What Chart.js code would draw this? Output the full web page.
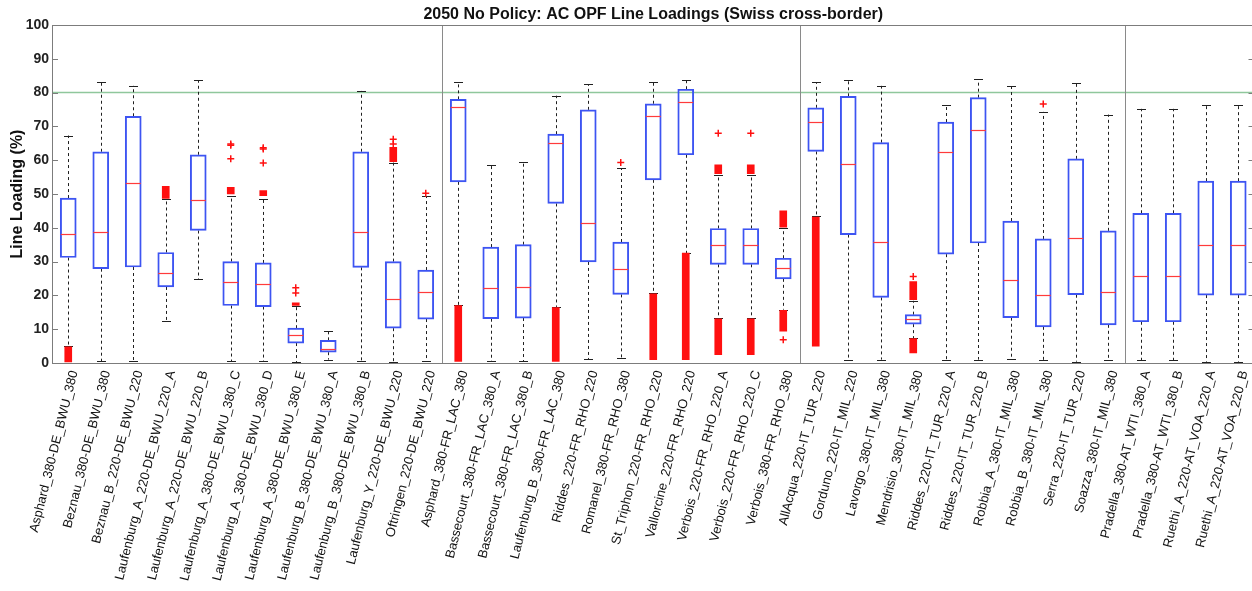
<!DOCTYPE html>
<html>
<head>
<meta charset="utf-8">
<title>Line loadings</title>
<script src="https://cdn.jsdelivr.net/npm/chart.js@4.4.1/dist/chart.umd.min.js"></script>
<style>
  html, body { margin: 0; padding: 0; background: #fff; overflow: hidden; }
  canvas { display: block; }
</style>
</head>
<body>
<canvas id="chart" width="1260" height="591"></canvas>
<script>
const chartTitle = '2050 No Policy: AC OPF Line Loadings (Swiss cross-border)';

const lines = [
  'Asphard_380-DE_BWU_380', 'Beznau_380-DE_BWU_380', 'Beznau_B_220-DE_BWU_220',
  'Laufenburg_A_220-DE_BWU_220_A', 'Laufenburg_A_220-DE_BWU_220_B', 'Laufenburg_A_380-DE_BWU_380_C',
  'Laufenburg_A_380-DE_BWU_380_D', 'Laufenburg_A_380-DE_BWU_380_E', 'Laufenburg_B_380-DE_BWU_380_A',
  'Laufenburg_B_380-DE_BWU_380_B', 'Laufenburg_Y_220-DE_BWU_220', 'Oftringen_220-DE_BWU_220',
  'Asphard_380-FR_LAC_380', 'Bassecourt_380-FR_LAC_380_A', 'Bassecourt_380-FR_LAC_380_B',
  'Laufenburg_B_380-FR_LAC_380', 'Riddes_220-FR_RHO_220', 'Romanel_380-FR_RHO_380',
  'St_Triphon_220-FR_RHO_220', 'Vallorcine_220-FR_RHO_220', 'Verbois_220-FR_RHO_220_A',
  'Verbois_220-FR_RHO_220_C', 'Verbois_380-FR_RHO_380',
  'AllAcqua_220-IT_TUR_220', 'Gorduno_220-IT_MIL_220', 'Lavorgo_380-IT_MIL_380',
  'Mendrisio_380-IT_MIL_380', 'Riddes_220-IT_TUR_220_A', 'Riddes_220-IT_TUR_220_B',
  'Robbia_A_380-IT_MIL_380', 'Robbia_B_380-IT_MIL_380', 'Serra_220-IT_TUR_220',
  'Soazza_380-IT_MIL_380',
  'Pradella_380-AT_WTI_380_A', 'Pradella_380-AT_WTI_380_B', 'Ruethi_A_220-AT_VOA_220_A',
  'Ruethi_A_220-AT_VOA_220_B'
];

// lines per neighbour country (DE, FR, IT, AT)
const groupSizes = [12, 11, 10, 4];

const whiskerLow  = [5.0, 0.5, 0.5, 12.5, 24.8, 0.5, 0.5, 0.3, 1.0, 0.5, 0.2, 0.5,
                     17.2, 0.5, 0.5, 16.6, 1.2, 1.5, 20.7, 32.5, 13.3, 13.3, 15.8,
                     43.4, 1.0, 1.0, 7.4, 1.0, 1.0, 1.3, 0.8, 0.4, 0.8,
                     0.8, 0.8, 0.4, 0.4];
const quartile1   = [31.2, 27.9, 28.4, 22.5, 39.2, 17.0, 16.7, 5.9, 3.2, 28.3, 10.3, 13.0,
                     53.6, 13.1, 13.3, 47.2, 29.9, 20.3, 54.2, 61.6, 29.2, 29.2, 24.9,
                     62.6, 38.0, 19.4, 11.5, 32.2, 35.5, 13.4, 10.7, 20.2, 11.3,
                     12.2, 12.2, 20.1, 20.1];
const medians     = [38.1, 38.7, 53.4, 26.6, 48.2, 23.9, 23.5, 8.3, 4.2, 38.7, 19.0, 21.0,
                     75.6, 22.2, 22.6, 65.2, 41.5, 27.9, 73.2, 77.3, 34.9, 34.9, 28.1,
                     71.4, 58.9, 35.9, 12.9, 62.5, 68.8, 24.5, 20.2, 37.0, 21.0,
                     25.8, 25.8, 35.0, 35.0];
const quartile3   = [48.8, 62.5, 73.0, 32.7, 61.6, 30.0, 29.6, 10.3, 6.7, 62.5, 30.0, 27.5,
                     78.0, 34.3, 35.0, 67.7, 74.9, 35.8, 76.7, 81.0, 39.8, 39.8, 31.0,
                     75.5, 78.9, 65.2, 14.3, 71.3, 78.5, 42.0, 36.7, 60.4, 39.1,
                     44.3, 44.3, 53.8, 53.8];
const whiskerHigh = [67.3, 83.0, 82.0, 48.5, 83.6, 49.5, 48.5, 17.0, 9.4, 80.5, 59.3, 49.3,
                     83.1, 58.5, 59.6, 79.1, 82.4, 57.6, 83.1, 83.7, 55.7, 55.7, 39.9,
                     83.1, 83.6, 82.0, 18.4, 76.4, 83.9, 82.0, 74.3, 82.9, 73.5,
                     75.2, 75.2, 76.4, 76.4];

// runs of densely packed outliers, [from, to]
const outliersAbove = [null, null, null, [48.7, 52.3], null, [50.0, 52.0], [49.5, 51.0], [17.0, 17.8],
                       null, null, [59.6, 63.8], null,
                       null, null, null, null, null, null, null, null, [56.0, 58.6], [56.0, 58.6], [40.2, 45.0],
                       null, null, null, [18.7, 24.1], null, null, null, null, null, null,
                       null, null, null, null];
const outliersBelow = [[0.3, 4.8], null, null, null, null, null, null, null, null, null, null, null,
                       [0.5, 17.0], null, null, [0.5, 16.4], null, null, [1.0, 20.5], [1.0, 32.5],
                       [2.5, 13.1], [2.5, 13.1], [9.4, 15.6],
                       [5.0, 43.2], null, null, [3.0, 7.2], null, null, null, null, null, null,
                       null, null, null, null];

// isolated outliers: [line index, loading]
const outlierPoints = [
  [5, 64.4], [5, 64.8], [5, 60.4], [6, 63.3], [6, 63.7], [6, 59.2], [7, 20.7], [7, 22.3],
  [10, 66.2], [10, 64.8], [11, 50.2], [17, 59.3], [20, 68.0], [21, 68.0], [22, 6.9],
  [26, 25.6], [30, 76.6]
];

const limitLine = 80;

const FONT = 'Arial, "Liberation Sans", Helvetica, sans-serif';
const BOX_BLUE = '#3d54f2';
const MEDIAN_RED = '#ff3b3b';
const OUTLIER_RED = '#ff1010';

// whiskers, medians, separators, frame and title
const boxPlotExtras = {
  id: 'boxPlotExtras',
  beforeDatasetsDraw(chart) {
    const { ctx, chartArea: a, scales: { x, y } } = chart;
    const px = v => Math.round(v) + 0.5;
    ctx.save();

    // 80 % limit
    ctx.strokeStyle = '#8fc79c';
    ctx.lineWidth = 1.5;
    ctx.beginPath();
    ctx.moveTo(a.left, y.getPixelForValue(limitLine));
    ctx.lineTo(a.right, y.getPixelForValue(limitLine));
    ctx.stroke();

    // country separators
    ctx.strokeStyle = '#8a8a8a';
    ctx.lineWidth = 1;
    let idx = 0;
    groupSizes.slice(0, -1).forEach(n => {
      idx += n;
      const xs = px((x.getPixelForTick(idx - 1) + x.getPixelForTick(idx)) / 2);
      ctx.beginPath();
      ctx.moveTo(xs, a.top);
      ctx.lineTo(xs, a.bottom);
      ctx.stroke();
    });

    // whiskers
    ctx.strokeStyle = '#202020';
    lines.forEach((_, i) => {
      const cx = px(x.getPixelForTick(i));
      ctx.setLineDash([3, 3]);
      ctx.beginPath();
      ctx.moveTo(cx, y.getPixelForValue(quartile3[i]));
      ctx.lineTo(cx, y.getPixelForValue(whiskerHigh[i]));
      ctx.moveTo(cx, y.getPixelForValue(quartile1[i]));
      ctx.lineTo(cx, y.getPixelForValue(whiskerLow[i]));
      ctx.stroke();
      ctx.setLineDash([]);
      ctx.beginPath();
      [whiskerHigh[i], whiskerLow[i]].forEach(v => {
        const cy = px(y.getPixelForValue(v));
        ctx.moveTo(cx - 4.5, cy);
        ctx.lineTo(cx + 4.5, cy);
      });
      ctx.stroke();
    });
    ctx.restore();
  },
  afterDatasetsDraw(chart) {
    const { ctx, chartArea: a, scales: { x, y } } = chart;
    const px = v => Math.round(v) + 0.5;
    ctx.save();

    ctx.strokeStyle = MEDIAN_RED;
    ctx.lineWidth = 1.2;
    lines.forEach((_, i) => {
      const cx = x.getPixelForTick(i);
      const cy = px(y.getPixelForValue(medians[i]));
      ctx.beginPath();
      ctx.moveTo(cx - 7.5, cy);
      ctx.lineTo(cx + 7.5, cy);
      ctx.stroke();
    });

    // axes box with inward ticks
    ctx.strokeStyle = '#7c7c7c';
    ctx.lineWidth = 1;
    ctx.strokeRect(px(a.left), px(a.top), Math.round(a.right - a.left), Math.round(a.bottom - a.top));
    ctx.beginPath();
    for (let v = 10; v < 100; v += 10) {
      const cy = px(y.getPixelForValue(v));
      ctx.moveTo(a.left, cy);
      ctx.lineTo(a.left + 6, cy);
      ctx.moveTo(a.right - 6, cy);
      ctx.lineTo(a.right, cy);
    }
    ctx.stroke();

    ctx.fillStyle = '#111';
    ctx.font = 'bold 16px ' + FONT;
    ctx.textAlign = 'center';
    ctx.textBaseline = 'middle';
    ctx.fillText(chartTitle, (a.left + a.right) / 2, 15);
    ctx.restore();
  }
};

new Chart(document.getElementById('chart'), {
  type: 'bar',
  data: {
    labels: lines,
    datasets: [
      {
        type: 'line',
        data: outlierPoints.map(([i, v]) => ({ x: lines[i], y: v })),
        showLine: false,
        pointStyle: 'cross',
        pointRadius: 3.5,
        pointBorderWidth: 1.5,
        borderColor: OUTLIER_RED,
        backgroundColor: OUTLIER_RED,
        order: 0
      },
      {
        data: quartile1.map((q, i) => [q, quartile3[i]]),
        grouped: false,
        barThickness: 16,
        backgroundColor: 'rgba(255,255,255,0)',
        borderColor: BOX_BLUE,
        borderWidth: 1.3,
        borderSkipped: false,
        order: 1
      },
      {
        data: outliersAbove,
        grouped: false,
        barThickness: 7,
        backgroundColor: OUTLIER_RED,
        borderWidth: 0,
        order: 2
      },
      {
        data: outliersBelow,
        grouped: false,
        barThickness: 7,
        backgroundColor: OUTLIER_RED,
        borderWidth: 0,
        order: 2
      }
    ]
  },
  options: {
    responsive: false,
    animation: false,
    layout: { padding: { top: 25, right: 4, left: 0, bottom: 0 } },
    plugins: {
      legend: { display: false },
      tooltip: { enabled: false },
      title: { display: false }
    },
    scales: {
      x: {
        grid: { display: false, drawTicks: false },
        border: { display: false },
        ticks: {
          autoSkip: false,
          minRotation: 76,
          maxRotation: 76,
          labelOffset: 6,
          padding: 6,
          color: '#111',
          font: { family: FONT, size: 13 }
        },
        afterFit: scale => { scale.height = 228; }
      },
      y: {
        min: 0,
        max: 100,
        grid: { display: false, drawTicks: false },
        border: { display: false },
        ticks: {
          stepSize: 10,
          padding: 3,
          color: '#222',
          font: { family: FONT, size: 14, weight: 'bold' }
        },
        title: {
          display: true,
          text: 'Line Loading (%)',
          color: '#111',
          padding: { top: 8, bottom: 0 },
          font: { family: FONT, size: 16, weight: 'bold' }
        },
        afterFit: scale => { scale.width = 52; }
      }
    }
  },
  plugins: [boxPlotExtras]
});
</script>
</body>
</html>
